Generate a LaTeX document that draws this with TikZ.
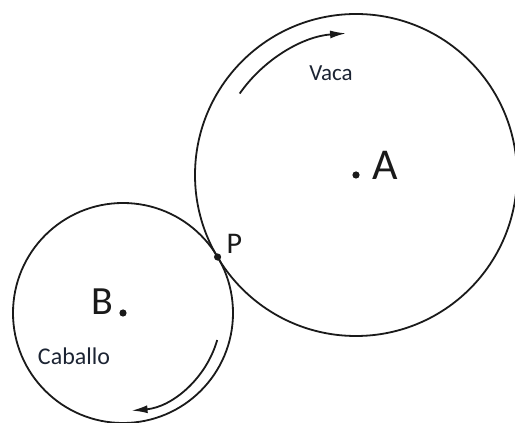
\documentclass[tikz,border=0pt]{standalone}
\usepackage{fontspec}
\setmainfont{Carlito}
\usetikzlibrary{positioning,arrows.meta,calc}
\definecolor{ink}{HTML}{1A1A1A}
\definecolor{word}{HTML}{1C2433}
\begin{document}
\begin{tikzpicture}[x=1pt,y=1pt]
\useasboundingbox (0,0) rectangle (515,423);
\coordinate (A) at (356,248);\coordinate (B) at (123,110);
\coordinate (P) at ($(B)!110/271!(A)$);
\draw[ink,line width=1.8pt] (A) circle[radius=161];
\draw[ink,line width=1.8pt] (B) circle[radius=110];
\draw[-{Latex[length=16pt,width=8pt]},ink,line width=1.8pt] ([shift={(145:142)}]A) arc[start angle=145,end angle=94,radius=142];
\draw[-{Latex[length=16pt,width=8pt]},ink,line width=1.8pt] ([shift={(-16:98)}]B) arc[start angle=-16,end angle=-85,radius=98];
\fill[ink] (A) circle[radius=3.6];\fill[ink] (B) circle[radius=3.6];\fill[ink] (P) circle[radius=3.6];
\node[text=ink,font=\fontsize{44}{44}\selectfont,anchor=base west] (labA) at (369,243){A};
\node[text=ink,font=\fontsize{40}{40}\selectfont,anchor=base east] (labB) at (117,108){B};
\node[text=ink,font=\fontsize{30}{30}\selectfont,anchor=base west] (labP) at (223,169){P};
\node[text=word,font=\fontsize{23}{23}\selectfont] (vaca) at (331,350){Vaca};
\node[text=word,font=\fontsize{24}{24}\selectfont] (caballo) at (74,67){Caballo};
\end{tikzpicture}
\end{document}
